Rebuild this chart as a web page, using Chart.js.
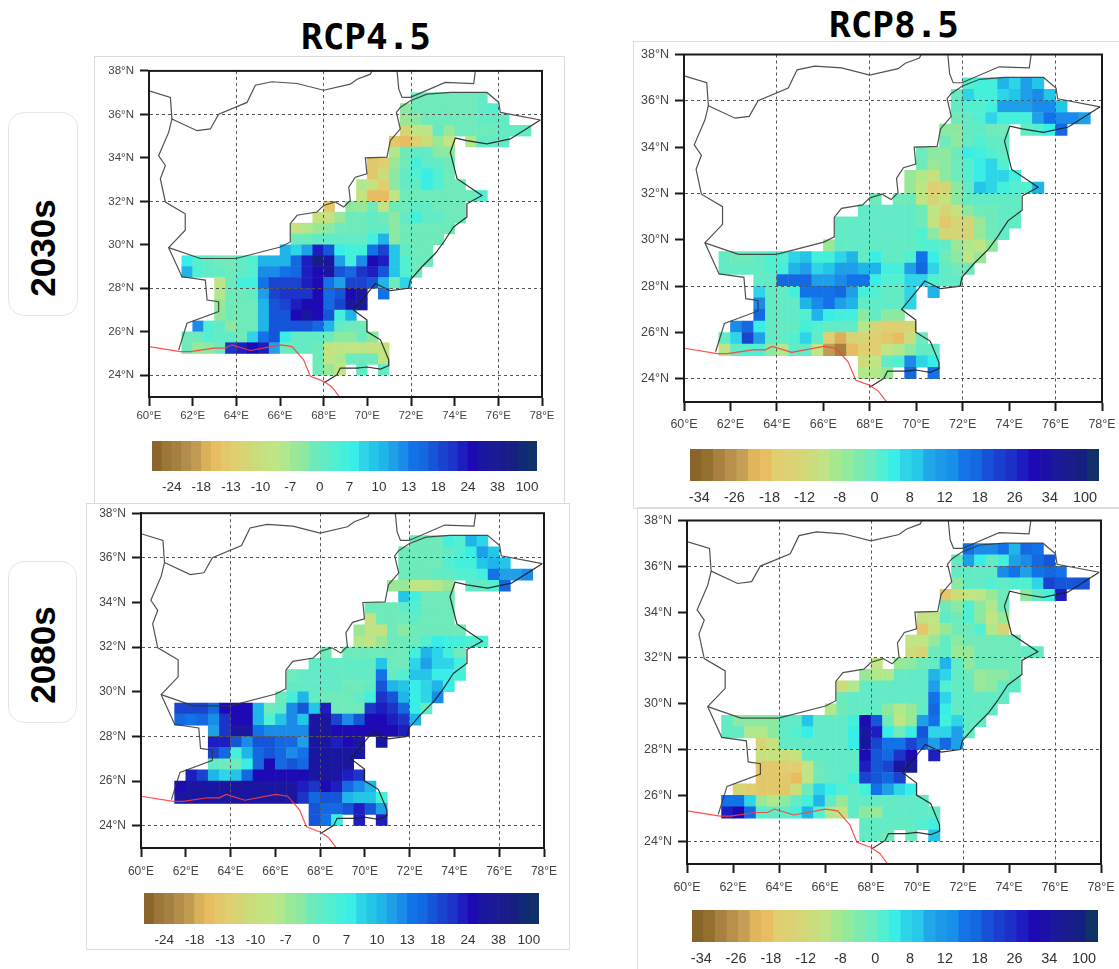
<!DOCTYPE html>
<html>
<head>
<meta charset="utf-8">
<title>RCP4.5 / RCP8.5 precipitation change over Pakistan</title>
<script src="https://cdn.jsdelivr.net/npm/chart.js@4"></script>
<style>
  html, body { margin: 0; background: #fff; }
  #page { position: relative; width: 1119px; height: 969px; overflow: hidden; }
  canvas { position: absolute; filter: blur(0.4px); }
  .sheet { position: absolute; border: 1px solid #dcdcdc; box-sizing: border-box; }
  .title { position: absolute; font: bold 36px "DejaVu Sans Mono"; color: #000; line-height: 1; white-space: nowrap; }
  .period { position: absolute; border: 1px solid #e6e6e6; border-radius: 16px; box-sizing: border-box; }
  .period span {
    position: absolute; left: 50%;
    transform: translate(-50%, -50%) rotate(-90deg);
    font: bold 35px "Liberation Sans"; color: #000;
  }
</style>
</head>
<body>
<div id="page"></div>
<script>
const lonTicks = [60, 62, 64, 66, 68, 70, 72, 74, 76, 78]
const latTicks = [24, 26, 28, 30, 32, 34, 36, 38]

const labels45 = ['-24', '-18', '-13', '-10', '-7', '0', '7', '10', '13', '18', '24', '38', '100']
const labels85 = ['-34', '-26', '-18', '-12', '-8', '0', '8', '12', '18', '26', '34', '100']

// colour boxes of the two colour bars, left to right
const boxes45 = ['#8b6529','#9c7738','#a5803f','#b48d4a','#c29b52','#dbb05a','#e8bc60','#e2c76b','#dfcf70','#d5d575',
  '#cbdc7a','#c5e280','#bfe585','#b2e88c','#98e898','#8ce9a2','#6feaba','#62ebc4','#52efd0','#44f0dc',
  '#38eee6','#2ed5e8','#24c6e8','#20b5e8','#1e9fe8','#1a8be8','#1272e8','#1468e0','#1555d8','#1a44d0',
  '#1c34c8','#1e1ec0','#1e0ab4','#1b16a0','#1a1a98','#1a1c8c','#181f82','#102a78','#0f3068']
const boxes85 = ['#8a6529','#94702e','#a8803f','#b88f4b','#c59f55','#e0b55c','#e9bd62','#dfcf70','#dcd274','#d6d678',
  '#cbdc7c','#c0e386','#a5e88e','#92ea9c','#7eeaae','#6cecbf','#52efd2','#38eee6','#2ed5e8','#28c8e8',
  '#20a8e8','#1c9ae8','#1690e8','#1274e8','#1468e0','#1850d8','#1a3ecf','#1c30c8','#1e1cc0','#1e0ab4',
  '#1c10a8','#1a1a98','#1a1c8c','#151f80','#0f3068']

// grid cells: one char per 0.5 degree cell, char = box index in boxes45, '.' = no data
// first row is 37.0-36.5N, first column is 61.5-62.0E
const levelCodes = '0123456789abcdefghijklmnopqrstuvwxyzABC'

const rcp45_2030 = [
  '.....................ggggggh',
  '....................fgggggghi',
  '....................efggggghhh',
  '....................9cchegggghhh',
  '...................768aec.dhhh',
  '...................dghhff',
  '.................78egjhhg',
  '.................7afhikig',
  '................db8fhhkigg',
  '................b66cgggggggi',
  '.............7.fegcgghhggg',
  '............bbegghgfhjhhgg',
  '..........bdefggghhfggggg',
  '..........gghhhhhjnfgggg',
  '.........nlovskjjqtmhgg',
  'kihgghinnnrvAxojpwvmigg',
  'nihhghippqrvwxsruvsmig',
  '...cgjjqtttvwqottsngl',
  '...dgghotuuuwrswx.q',
  '...egggnstvwwrtxy',
  '...fgggnsswxwsjn',
  '.pihfggnssssrnhgg',
  'ggihhglqskhhhgffgf',
  'gefguvwvoghhgbcccbb',
  '............gcdgggc',
  '............gec.h.h',
]

const rcp85_2030 = [
  '.....................ijjnlom',
  '....................hljjlmopm',
  '....................hiijoooppm',
  '....................ghiljjjoqppo',
  '...................ffhhgg.hikr',
  '...................gfhihh',
  '.................gffgkjih',
  '.................gefgikli',
  '................edbfgikllj',
  '................ec89fhmljiin',
  '.............g.ggc9bfhhhhh',
  '............hhhhhgc9bfgghh',
  '..........hhhhhhhgb799eghh',
  '..........hhhhhhhif999egh',
  '.........ehhhhhhhiihedcf',
  'hgghiilmjjlnhkhhiqkgfce',
  'hhhhijnolmoonnjjorlhgg',
  '...hhrrroopqqkiillihh',
  '...lhhjqqqrojihhl.n',
  '...phhhnpqonhhhhl',
  '...rhhhinkjjfhff',
  '.prkhhhjihhhd9889',
  'hltohhilh8599876ag',
  'chiifdhhc42688cdfhh',
  '............achiplk',
  '............dde.r.q',
]

const rcp45_2080 = [
  '.....................gggjinl',
  '....................gggghikom',
  '....................ggggijjmnm',
  '....................ggghhiijqoop',
  '...................eeccde.hhir',
  '....................mjggg',
  '.................ggghiggg',
  '.................bggghggg',
  '................ecbgfggggg',
  '................dcegggikjjii',
  '.............g.ggggggjnljg',
  '............hhhhhhmgglollj',
  '..........ghhhhhhhqhimmkkj',
  '..........hhhhhgghsnmklnk',
  '.........gjnhggghjusnklp',
  'tttrwwwnghpsmvggguvurkh',
  'rqrpuwwnimpmxxtpswwvun',
  '...ouxxqppppxxwwwwwwv',
  '...vvspssrroxxvwx.x',
  '...trjnrsrpqxxxxx',
  '...hggkrwrsrxxxx',
  '.vtnlmrwwwwwxxxvu',
  'wxxxxxxxxxxvuwvrpn',
  'xxxxxxxxxxxurssnmmj',
  '............srrsvso',
  '............sqk.v.v',
]

const rcp85_2080 = [
  '.....................qppqnrq',
  '....................hokhjoprs',
  '....................hhhhpqoqrq',
  '....................fhhihiiltsss',
  '...................7acceg.fhjv',
  '...................gfifdg',
  '.................bchgifce',
  '.................7beggid9',
  '................ccehfggggg',
  '................a9gheegggghh',
  '.............c.efghnhfgggg',
  '............eddhhhnlhgeffg',
  '..........adhhhhhhoihhefhh',
  '..........ghhhhhhhqlhhhhh',
  '.........dghhhfdehrkhhhh',
  'hffffhhmhhhjwsgceoqjlhh',
  'hhddfhikhhhkxvkgkslloh',
  '...9bhhhhhhkxtqqtroro',
  '...bbabhhhhhwsruw.v',
  '...7788cghhhvstxy',
  '...7776cghhjtsrt',
  '.98777aglkihjqolk',
  'qqledfhjnhehhhhhhh',
  'vwrihhjnidchfehhhhh',
  '............hhhhhij',
  '............hhg.g.m',
]

// borders as [lon, lat]
const borderWest = [[60,37.08],[60.98,36.78],[61.05,35.79],[60.9,35.17],[60.44,34.1],[60.75,33.65],[60.52,33.04],
  [60.75,31.97],[61.66,31.43],[61.66,30.67],[60.9,29.87],[61.51,28.53],[62.58,28.38],[62.66,27.46],[63.19,27.38],
  [63.19,26.93],[61.74,26.39],[61.36,25.17]]
const borderAfghanPak = [[60.9,29.87],[62.35,29.37],[63.98,29.37],[66.02,29.9],[66.47,30.13],[66.47,30.97],[66.78,31.36],
  [67.69,31.51],[68,31.81],[68.53,31.97],[68.92,31.74],[69.22,32.04],[69.15,32.65],[69.45,33.11],[69.98,33.27],[69.91,34],
  [70.9,34.03],[71.05,34.79],[71.51,35.33],[71.33,36.09],[71.51,36.32],[71.97,36.63],[72.73,36.93],[73.8,37.01],
  [75.48,37.01],[76.02,36.55],[76.09,36.09],[77.92,35.74]]
const borderNorth = [[61.05,35.79],[62.2,35.25],[62.81,35.33],[63.19,36.01],[64.49,36.55],[64.87,37.34],[65.63,37.5],
  [66.78,37.42],[68,37.11],[69.22,37.39],[69.53,37.62],[70.14,37.85],[70.21,38]]
const borderWakhan = [[71.36,38],[71.44,37.16],[71.59,36.78],[71.97,36.78],[73.57,37.47],[74.87,37.42],[74.95,38]]
const borderIndia = [[77.92,35.74],[76.55,34.87],[75.48,34.64],[74.56,34.79],[74.03,34.91],[73.8,34.26],[74.11,33.04],
  [74.79,32.58],[75.25,32.27],[74.56,31.89],[74.56,31.28],[73.95,30.82],[73.5,30.13],[73.11,29.6],[72.5,28.99],[71.97,28.38],
  [71.89,28],[71.05,27.89],[70.37,28.22],[69.37,27],[69.98,26.54],[69.98,26.01],[70.6,25.63],[70.98,24.71],[70.98,24.44],
  [70.6,24.28],[69.98,24.38],[69.53,24.33],[68.76,24.33],[68.61,24.02],[68,23.64]]
const coastLine = [[60,25.32],[61.44,25.09],[61.89,25.09],[62.96,25.25],[63.5,25.25],[63.8,25.4],[64.64,25.14],[66.02,25.4],
  [66.55,25.32],[67.08,24.71],[67.39,23.95],[68,23.72],[68.38,23.46],[68.73,23]]

const page = document.getElementById('page')
const FIRST_LON = 61.5, TOP_LAT = 37, CELL = 0.5

function addCanvas(left, top, w, h) {
  const c = document.createElement('canvas')
  c.width = w
  c.height = h
  c.style.left = left + 'px'
  c.style.top = top + 'px'
  c.style.width = w + 'px'
  c.style.height = h + 'px'
  page.appendChild(c)
  return c
}

function cellsFrom(rows) {
  const pts = []
  rows.forEach((row, i) => {
    ;[...row].forEach((ch, j) => {
      if (ch === '.') return
      pts.push({
        x: FIRST_LON + CELL * j + CELL / 2,
        y: TOP_LAT - CELL * i - CELL / 2,
        level: levelCodes.indexOf(ch),
      })
    })
  })
  return pts
}

function lineSet(coords, color, width) {
  return {
    data: coords.map(p => ({ x: p[0], y: p[1] })),
    showLine: true,
    borderColor: color,
    borderWidth: width,
    pointRadius: 0,
    order: 1,
  }
}

const framePlugin = {
  id: 'frame',
  afterDraw(chart) {
    const a = chart.chartArea, c = chart.ctx
    c.save()
    c.strokeStyle = '#1a1a1a'
    c.lineWidth = 2
    c.strokeRect(a.left, a.top, a.right - a.left, a.bottom - a.top)
    c.restore()
  },
}

function drawMap(rows, box) {
  const mLeft = 60, mRight = 34, mTop = 12, mBottom = 40
  const w = box.right - box.left, h = box.bottom - box.top
  const canvas = addCanvas(box.left - mLeft, box.top - mTop, w + mLeft + mRight, h + mTop + mBottom)
  const cells = cellsFrom(rows)
  const gridColor = ctx => (ctx.tick && ctx.tick.value % 4 === 0 ? '#555' : 'rgba(0,0,0,0)')
  const borderOpts = { color: '#1a1a1a', width: 2, dash: [3, 3], z: 2 }
  const gridOpts = { z: 1, color: gridColor, lineWidth: 1, tickColor: '#1a1a1a', tickWidth: 2, tickLength: 9 }

  new Chart(canvas, {
    type: 'scatter',
    plugins: [framePlugin],
    data: {
      datasets: [
        lineSet(coastLine, 'rgba(255,60,60,0.9)', 1.2),
        lineSet(borderWest, 'rgba(50,50,50,0.85)', 1.2),
        lineSet(borderAfghanPak, 'rgba(50,50,50,0.85)', 1.2),
        lineSet(borderNorth, 'rgba(50,50,50,0.85)', 1.2),
        lineSet(borderWakhan, 'rgba(50,50,50,0.85)', 1.2),
        lineSet(borderIndia, 'rgba(30,30,30,0.9)', 1.2),
        {
          data: cells,
          order: 2,
          pointStyle: 'rect',
          borderWidth: 0,
          backgroundColor: cells.map(p => boxes45[p.level]),
          pointRadius: ctx => {
            const x = ctx.chart.scales.x
            return (Math.abs(x.getPixelForValue(CELL) - x.getPixelForValue(0)) + 0.5) / Math.SQRT2
          },
        },
      ],
    },
    options: {
      responsive: false,
      animation: false,
      events: [],
      layout: { padding: { left: 0, right: mRight, top: mTop, bottom: 0 } },
      plugins: { legend: { display: false }, tooltip: { enabled: false } },
      scales: {
        x: {
          type: 'linear',
          min: 60,
          max: 78,
          afterFit: s => { s.height = mBottom },
          afterBuildTicks: s => { s.ticks = lonTicks.map(v => ({ value: v })) },
          border: borderOpts,
          grid: gridOpts,
          ticks: {
            autoSkip: false, maxRotation: 0, padding: box.xPad, color: '#444',
            font: { family: 'Liberation Sans', size: box.font },
            callback: v => v + '°E',
          },
        },
        y: {
          type: 'linear',
          min: 23,
          max: 38,
          afterFit: s => { s.width = mLeft },
          afterBuildTicks: s => { s.ticks = latTicks.map(v => ({ value: v })) },
          border: borderOpts,
          grid: gridOpts,
          ticks: {
            autoSkip: false, padding: 6, color: '#444',
            font: { family: 'Liberation Sans', size: box.font },
            callback: v => v + '°N',
          },
        },
      },
    },
  })
}

function drawBar(colors, labels, tickAt, box) {
  const mSide = 24, mBottom = 30
  const w = box.right - box.left, h = box.bottom - box.top
  const canvas = addCanvas(box.left - mSide, box.top, w + 2 * mSide, h + mBottom)
  new Chart(canvas, {
    type: 'bar',
    data: {
      datasets: [{
        data: colors.map((c, i) => ({ x: i + 0.5, y: 1 })),
        backgroundColor: colors,
        borderWidth: 0,
        barPercentage: 1,
        categoryPercentage: 1,
      }],
    },
    options: {
      responsive: false,
      animation: false,
      events: [],
      layout: { padding: { left: mSide, right: mSide, top: 0, bottom: 0 } },
      plugins: { legend: { display: false }, tooltip: { enabled: false } },
      scales: {
        x: {
          type: 'linear',
          offset: false,
          min: 0,
          max: colors.length,
          afterFit: s => { s.height = mBottom },
          afterBuildTicks: s => { s.ticks = labels.map((l, i) => ({ value: tickAt + 3 * i })) },
          border: { display: false },
          grid: { display: false, drawTicks: false, offset: false },
          ticks: {
            autoSkip: false, maxRotation: 0, padding: 8, color: '#333',
            font: { family: 'Liberation Sans', size: box.font },
            callback: (v, i) => labels[i],
          },
        },
        y: { display: false, min: 0, max: 1 },
      },
    },
  })
}

function addDiv(cls, left, top, w, h, text) {
  const d = document.createElement('div')
  d.className = cls
  d.style.left = left + 'px'
  d.style.top = top + 'px'
  if (w) d.style.width = w + 'px'
  if (h) d.style.height = h + 'px'
  if (text) d.textContent = text
  page.appendChild(d)
  return d
}

addDiv('sheet', 94, 56, 471, 448)
addDiv('sheet', 633, 41, 500, 468)
addDiv('sheet', 86, 503, 484, 447)
addDiv('sheet', 637, 507, 500, 480)

addDiv('title', 301, 19, 0, 0, 'RCP4.5')
addDiv('title', 829, 7, 0, 0, 'RCP8.5')

addDiv('period', 8, 112, 70, 204).innerHTML = '<span style="top:135px">2030s</span>'
addDiv('period', 8, 561, 69, 162).innerHTML = '<span style="top:93px">2080s</span>'

drawMap(rcp45_2030, { left: 149, right: 542, top: 70, bottom: 397, font: 11.5, xPad: 3 })
drawMap(rcp85_2030, { left: 684, right: 1102, top: 53, bottom: 402, font: 12.5, xPad: 6 })
drawMap(rcp45_2080, { left: 141, right: 544, top: 512, bottom: 848, font: 12, xPad: 7 })
drawMap(rcp85_2080, { left: 687, right: 1101, top: 519, bottom: 864, font: 12.5, xPad: 7 })

drawBar(boxes45, labels45, 2, { left: 152, right: 537, top: 441, bottom: 471, font: 13.5 })
drawBar(boxes85, labels85, 0.8, { left: 690, right: 1099, top: 449, bottom: 481, font: 14.5 })
drawBar(boxes45, labels45, 2, { left: 144, right: 539, top: 893, bottom: 924, font: 13.5 })
drawBar(boxes85, labels85, 0.8, { left: 692, right: 1098, top: 910, bottom: 942, font: 14.5 })
</script>
</body>
</html>
